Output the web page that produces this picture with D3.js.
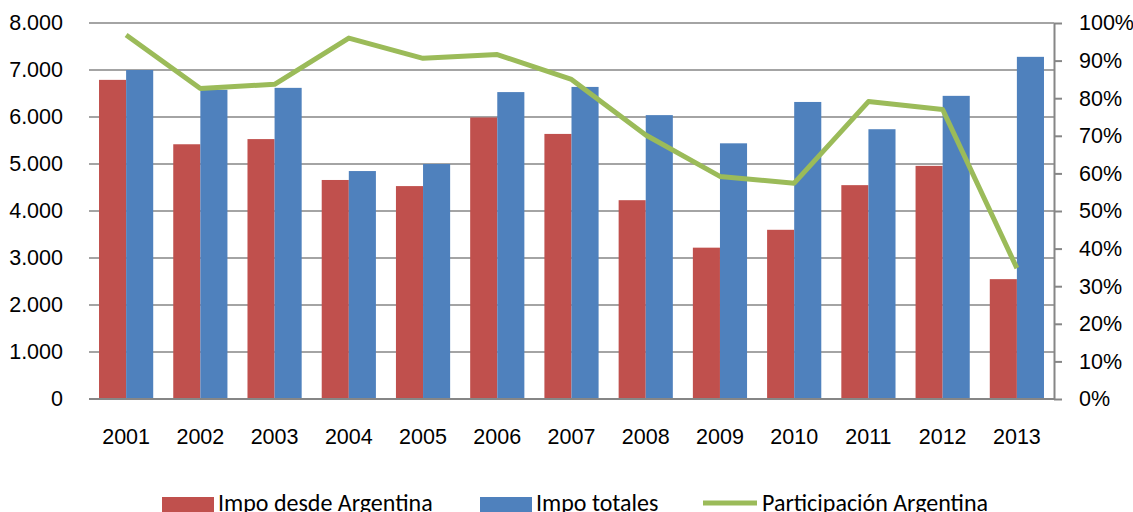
<!DOCTYPE html>
<html>
<head>
<meta charset="utf-8">
<script src="https://cdn.jsdelivr.net/npm/d3@7/dist/d3.min.js"></script>
<style>
  html, body { margin: 0; padding: 0; background: #fff; }
  svg { display: block; font-family: Carlito, Lato, "Open Sans", sans-serif; }
</style>
</head>
<body>
<svg id="chart" width="1133" height="512"></svg>
<script>
// Years on the category axis
const years = ["2001","2002","2003","2004","2005","2006","2007","2008","2009","2010","2011","2012","2013"];
// Imports from Argentina (left axis)
const impoArgentina = [6790, 5420, 5530, 4660, 4530, 5990, 5640, 4230, 3220, 3600, 4550, 4960, 2550];
// Total imports (left axis)
const impoTotales = [7000, 6580, 6620, 4850, 5000, 6530, 6640, 6040, 5440, 6320, 5740, 6450, 7280];
// Argentina's share of total imports (right axis, %)
const participacion = [96.8, 82.6, 83.7, 96.0, 90.6, 91.6, 85.0, 70.2, 59.2, 57.4, 79.1, 77.0, 34.8];

const leftTicks = [0, 1000, 2000, 3000, 4000, 5000, 6000, 7000, 8000];
const rightTicks = [0, 10, 20, 30, 40, 50, 60, 70, 80, 90, 100];
const seriesNames = ["Impo desde Argentina", "Impo totales", "Participación Argentina"];

const colors = { red: "#C0504D", blue: "#4F81BD", green: "#9BBB59", grid: "#868686" };

const svg = d3.select("#chart");
const plot = { left: 89, right: 1054, top: 23, bottom: 399 };
const tickFont = 21.5;
const legendFont = 24;

const x = d3.scaleBand().domain(years).range([plot.left, plot.right])
  .paddingInner(0.27).paddingOuter(0.135);
const xSub = d3.scaleBand().domain(["a", "t"]).range([0, x.bandwidth()]);
const yLeft = d3.scaleLinear().domain([0, 8000]).range([plot.bottom, plot.top]);
const yRight = d3.scaleLinear().domain([0, 100]).range([plot.bottom, plot.top]);

const fmtThousands = d3.formatLocale({ decimal: ",", thousands: ".", grouping: [3], currency: ["", ""] }).format(",");

// Horizontal gridlines
svg.append("g")
  .selectAll("line")
  .data(leftTicks.filter(d => d > 0))
  .join("line")
  .attr("x1", plot.left).attr("x2", plot.right)
  .attr("y1", d => yLeft(d)).attr("y2", d => yLeft(d))
  .attr("stroke", colors.grid).attr("stroke-width", 1.6);

// Left axis labels (no axis line)
const leftAxis = svg.append("g")
  .attr("transform", `translate(${plot.left},0)`)
  .call(d3.axisLeft(yLeft).tickValues(leftTicks).tickFormat(fmtThousands).tickSize(0).tickPadding(26));
leftAxis.select(".domain").remove();
leftAxis.selectAll("text").attr("font-size", tickFont).attr("fill", "#000").attr("font-family", null);

// Bars
const groups = svg.append("g").selectAll("g")
  .data(years.map((yr, i) => ({ yr, a: impoArgentina[i], t: impoTotales[i] })))
  .join("g")
  .attr("transform", d => `translate(${x(d.yr)},0)`);

groups.append("rect")
  .attr("x", xSub("a")).attr("width", xSub.bandwidth())
  .attr("y", d => yLeft(d.a)).attr("height", d => yLeft(0) - yLeft(d.a))
  .attr("fill", colors.red);

groups.append("rect")
  .attr("x", xSub("t")).attr("width", xSub.bandwidth())
  .attr("y", d => yLeft(d.t)).attr("height", d => yLeft(0) - yLeft(d.t))
  .attr("fill", colors.blue);

// Bottom axis
const bottomAxis = svg.append("g")
  .attr("transform", `translate(0,${plot.bottom})`)
  .call(d3.axisBottom(x).tickSize(0).tickPadding(30).tickSizeOuter(0));
bottomAxis.select(".domain")
  .attr("d", `M${plot.left},0H${plot.right}`)
  .attr("stroke", colors.grid).attr("stroke-width", 2);
bottomAxis.selectAll("text").attr("font-size", tickFont).attr("fill", "#000").attr("font-family", null);

// Right axis
const rightAxis = svg.append("g")
  .attr("transform", `translate(${plot.right},0)`)
  .call(d3.axisRight(yRight).tickValues(rightTicks).tickFormat(d => d + "%").tickSize(8).tickPadding(17).tickSizeOuter(0));
rightAxis.select(".domain").attr("stroke", colors.grid).attr("stroke-width", 2);
rightAxis.selectAll(".tick line").attr("stroke", colors.grid).attr("stroke-width", 2);
rightAxis.selectAll("text").attr("font-size", tickFont).attr("fill", "#000").attr("font-family", null);

// Share line
const line = d3.line()
  .x((d, i) => x(years[i]) + x.bandwidth() / 2)
  .y(d => yRight(d));
svg.append("path")
  .datum(participacion)
  .attr("d", line)
  .attr("fill", "none")
  .attr("stroke", colors.green)
  .attr("stroke-width", 5)
  .attr("stroke-linejoin", "round");

// Legend along the bottom edge
const legend = svg.append("g").attr("font-size", legendFont);
const legendItems = [
  { name: seriesNames[0], type: "rect", color: colors.red, x: 162, tx: 218 },
  { name: seriesNames[1], type: "rect", color: colors.blue, x: 480, tx: 536 },
  { name: seriesNames[2], type: "line", color: colors.green, x: 703, tx: 762 }
];
legendItems.forEach(it => {
  if (it.type === "rect") {
    legend.append("rect").attr("x", it.x).attr("y", 497).attr("width", 52).attr("height", 18).attr("fill", it.color);
  } else {
    legend.append("line").attr("x1", it.x).attr("x2", it.x + 54).attr("y1", 503).attr("y2", 503)
      .attr("stroke", it.color).attr("stroke-width", 5);
  }
  legend.append("text").attr("x", it.tx).attr("y", 511).text(it.name);
});
</script>
</body>
</html>
